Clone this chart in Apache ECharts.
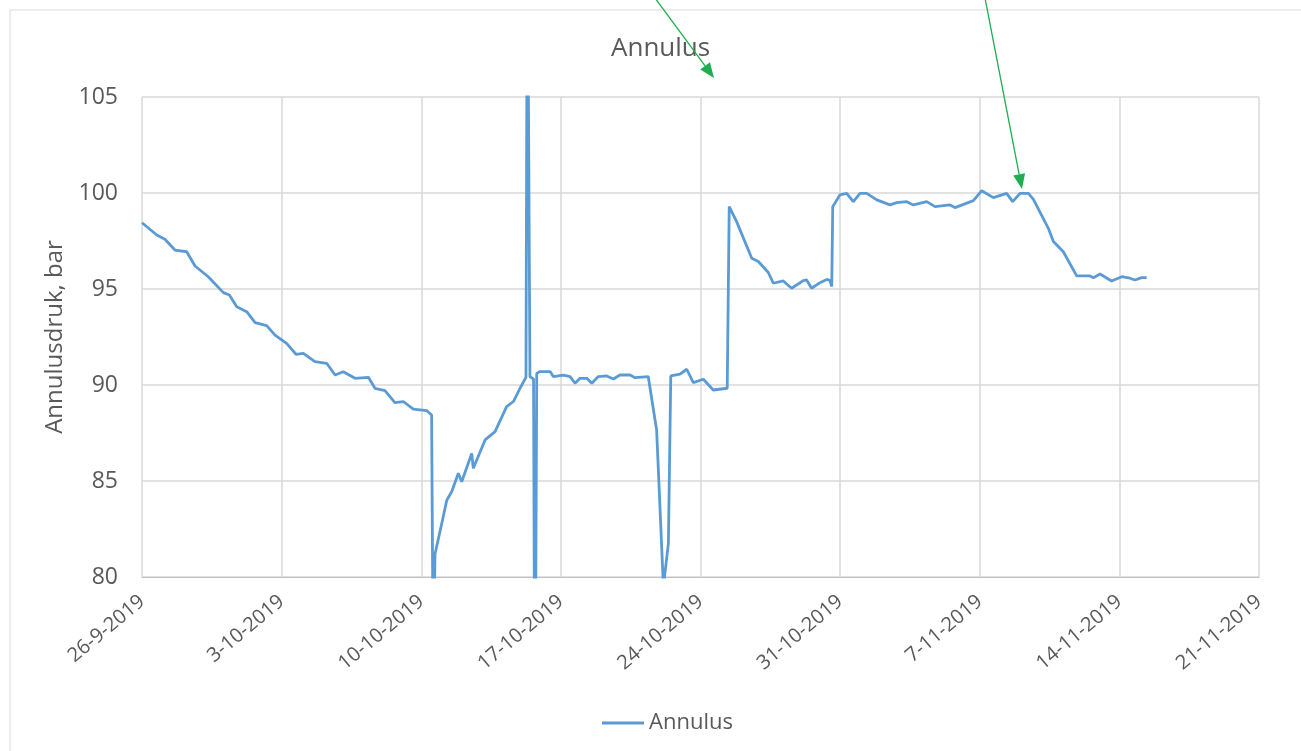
<!DOCTYPE html>
<html>
<head>
<meta charset="utf-8">
<script src="https://cdn.jsdelivr.net/npm/echarts@6/dist/echarts.min.js"></script>
<style>
  html, body { margin: 0; padding: 0; background: #fff; }
  #container { width: 1301px; height: 751px; }
</style>
</head>
<body>
<div id="container"></div>
<script>
// days since 26-9-2019
var days = [0, 0.74, 1.15, 1.65, 2.24, 2.66, 3.32, 4.08, 4.38, 4.75, 5.25, 5.67, 6.25, 6.67,
  7.25, 7.72, 8.09, 8.67, 9.26, 9.68, 10.09, 10.68, 11.35, 11.68, 12.18, 12.68, 13.1, 13.6,
  14.27, 14.52, 14.6, 14.69, 15.03, 15.28, 15.53, 15.86, 16.03, 16.53, 16.61, 17.2, 17.7,
  18.28, 18.62, 18.95, 19.25, 19.32, 19.45, 19.63, 19.7, 19.79, 19.95, 20.46, 20.62, 21.12,
  21.46, 21.71, 21.96, 22.3, 22.55, 22.88, 23.3, 23.63, 23.96, 24.47, 24.72, 25.38, 25.47,
  25.8, 26.14, 26.39, 26.51, 26.97, 27.31, 27.64, 28.14, 28.64, 29.34, 29.39, 29.44, 29.81,
  30.57, 30.9, 31.4, 31.65, 32.15, 32.57, 33.15, 33.32, 33.57, 33.99, 34.33, 34.49, 34.58,
  34.63, 34.99, 35.33, 35.66, 36.0, 36.33, 36.84, 37.5, 37.84, 38.34, 38.67, 39.34, 39.76,
  40.51, 40.76, 41.35, 41.68, 42.1, 42.68, 43.35, 43.65, 44.02, 44.44, 44.69, 45.44, 45.69,
  46.19, 46.86, 47.53, 47.7, 48.03, 48.61, 49.12, 49.53, 49.78, 50.12, 50.37];
var annulus = [98.45, 97.81, 97.59, 97.03, 96.94, 96.2, 95.64, 94.81, 94.69, 94.08, 93.82, 93.25, 93.09, 92.6,
  92.17, 91.6, 91.65, 91.22, 91.13, 90.52, 90.69, 90.35, 90.4, 89.83, 89.71, 89.08, 89.14, 88.74,
  88.67, 88.44, 75, 81.2, 82.8, 84.0, 84.45, 85.4, 84.96, 86.44, 85.66, 87.14, 87.57,
  88.87, 89.14, 89.83, 90.4, 115, 90.44, 90.3, 70, 90.6, 90.7, 90.7, 90.44, 90.52,
  90.44, 90.09, 90.35, 90.35, 90.09, 90.44, 90.47, 90.31, 90.52, 90.52, 90.38, 90.44, 90.4,
  87.66, 79.5, 81.75, 90.47, 90.57, 90.82, 90.12, 90.3, 89.74, 89.83, 89.8, 99.29, 98.51,
  96.6, 96.43, 95.86, 95.3, 95.42, 95.04, 95.44, 95.47, 95.04, 95.33, 95.5, 95.44, 95.13,
  99.29, 99.9, 99.98, 99.55, 99.98, 99.98, 99.64, 99.38, 99.5, 99.55, 99.38, 99.55, 99.29,
  99.38, 99.24, 99.47, 99.6, 100.12, 99.76, 99.98, 99.55, 99.98, 99.98, 99.67, 98.16, 97.47,
  96.94, 95.68, 95.68, 95.59, 95.78, 95.42, 95.64, 95.56, 95.47, 95.59, 95.59];
var tickDates = ['26-9-2019', '3-10-2019', '10-10-2019', '17-10-2019', '24-10-2019',
  '31-10-2019', '7-11-2019', '14-11-2019', '21-11-2019'];

var points = days.map(function (d, i) { return [d, annulus[i]]; });
var font = '"Open Sans", sans-serif';

// pijl: lijn met driehoekige punt
function arrow(x1, y1, x2, y2) {
  var a = Math.atan2(y2 - y1, x2 - x1), len = 15, w = 6;
  var bx = x2 - len * Math.cos(a), by = y2 - len * Math.sin(a);
  return [{
    type: 'line', z: 100,
    shape: { x1: x1, y1: y1, x2: bx, y2: by },
    style: { stroke: '#1fae4f', lineWidth: 1.3 }
  }, {
    type: 'polygon', z: 100,
    shape: { points: [[x2, y2],
      [bx + w * Math.sin(a), by - w * Math.cos(a)],
      [bx - w * Math.sin(a), by + w * Math.cos(a)]] },
    style: { fill: '#1fae4f' }
  }];
}

var dom = document.getElementById('container');
var myChart = echarts.init(dom);
var option = {
  backgroundColor: '#fff',
  animation: false,
  title: {
    text: 'Annulus',
    left: 606, top: 31,
    textStyle: { fontFamily: font, fontSize: 26, fontWeight: 'normal', color: '#595959' }
  },
  legend: {
    data: ['Annulus'],
    left: 597, top: 707,
    itemWidth: 42, itemHeight: 3, itemGap: 4,
    textStyle: { fontFamily: font, fontSize: 22, color: '#595959' },
    icon: 'rect'
  },
  grid: { left: 142, top: 97, width: 1117, height: 480 },
  xAxis: {
    type: 'value',
    min: 0, max: 56, interval: 7,
    axisLine: { show: true, lineStyle: { color: '#bfbfbf', width: 1 } },
    axisTick: { show: false },
    splitLine: { show: true, lineStyle: { color: '#d9d9d9', width: 1.5 } },
    axisLabel: {
      rotate: 40, margin: 22,
      fontFamily: font, fontSize: 20, color: '#595959',
      formatter: function (v) { return tickDates[Math.round(v / 7)]; }
    }
  },
  yAxis: {
    type: 'value',
    min: 80, max: 105, interval: 5,
    name: 'Annulusdruk, bar',
    nameLocation: 'middle', nameGap: 72,
    nameTextStyle: { fontFamily: font, fontSize: 24, color: '#595959' },
    axisLine: { show: false },
    axisTick: { show: false },
    splitLine: { lineStyle: { color: '#d9d9d9', width: 1.5 } },
    axisLabel: { margin: 24, fontFamily: font, fontSize: 23, color: '#595959' }
  },
  series: [{
    name: 'Annulus',
    type: 'line',
    data: points,
    symbol: 'none',
    clip: true,
    lineStyle: { color: '#5b9bd5', width: 2.8 },
    itemStyle: { color: '#5b9bd5' }
  }],
  graphic: [{
    type: 'rect', z: -1,
    shape: { x: 10, y: 10, width: 1400, height: 900 },
    style: { fill: 'none', stroke: '#d9d9d9', lineWidth: 1 }
  }].concat(arrow(655, -2, 714, 78), arrow(985, -2, 1022, 189))
};
myChart.setOption(option);
window.onresize = myChart.resize;
</script>
</body>
</html>
